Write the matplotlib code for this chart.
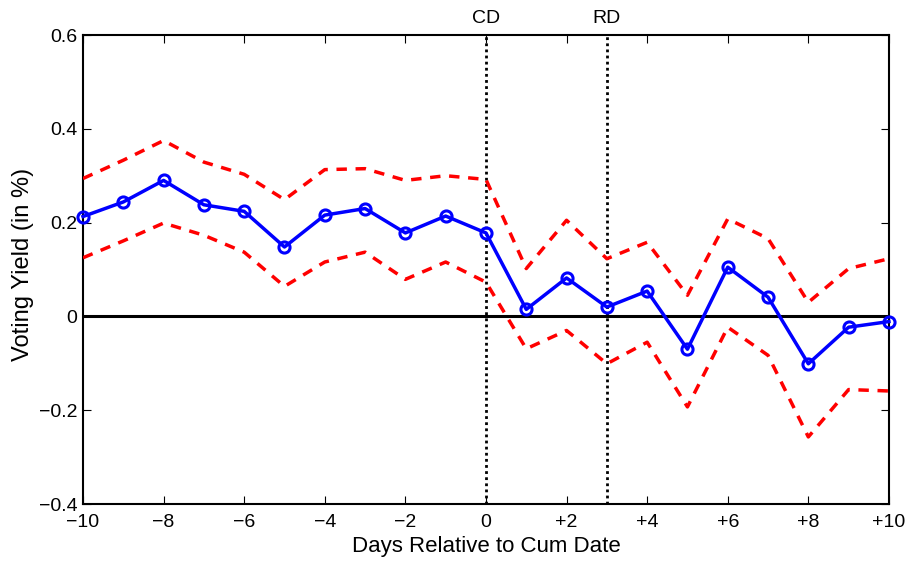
import matplotlib
matplotlib.use("Agg")
import matplotlib.pyplot as plt
import numpy as np

plt.rcParams['font.family'] = ['Liberation Sans', 'DejaVu Sans']

days = list(range(-10, 11))
mean_yield = [0.213, 0.244, 0.290, 0.238, 0.224, 0.148, 0.216, 0.230, 0.178, 0.214, 0.178,
              0.015, 0.082, 0.020, 0.054, -0.070, 0.105, 0.041, -0.101, -0.023, -0.011]
upper_ci = [0.294, 0.333, 0.375, 0.329, 0.303, 0.249, 0.313, 0.315, 0.290, 0.300, 0.292,
            0.102, 0.205, 0.123, 0.158, 0.045, 0.208, 0.166, 0.030, 0.102, 0.123]
lower_ci = [0.125, 0.161, 0.199, 0.173, 0.137, 0.064, 0.116, 0.137, 0.079, 0.116, 0.073,
            -0.069, -0.030, -0.101, -0.055, -0.193, -0.023, -0.083, -0.257, -0.156, -0.159]
xtick_vals = [-10, -8, -6, -4, -2, 0, 2, 4, 6, 8, 10]
xtick_labels = ['\u221210', '\u22128', '\u22126', '\u22124', '\u22122', '0', '+2', '+4', '+6', '+8', '+10']
ytick_vals = [-0.4, -0.2, 0, 0.2, 0.4, 0.6]
ytick_labels = ['\u22120.4', '\u22120.2', '0', '0.2', '0.4', '0.6']
event_days = [0, 3]
event_labels = ['CD', 'RD']

fig = plt.figure(figsize=(9.08, 5.62), dpi=100)
ax = fig.add_axes([0.0914, 0.1032, 0.8876, 0.8345])

ax.axhline(0, color='black', lw=2.2, zorder=2)
for d, lab in zip(event_days, event_labels):
    ax.axvline(d, color='black', lw=2, linestyle=(0, (1, 1.2)), zorder=2)
    ax.text(d, 0.626, lab, ha='center', va='baseline', fontsize=14)

ax.plot(days, upper_ci, color='red', lw=2.5, linestyle=(0, (3, 2.5)), zorder=3)
ax.plot(days, lower_ci, color='red', lw=2.5, linestyle=(0, (3, 2.5)), zorder=3)
ax.plot(days, mean_yield, color='blue', lw=2.5, marker='o', markersize=8,
        markerfacecolor='none', markeredgewidth=2.2, markeredgecolor='blue', zorder=4,
        clip_on=False)

ax.set_xlim(-10, 10)
ax.set_ylim(-0.4, 0.6)
ax.set_xticks(xtick_vals)
ax.set_xticklabels(xtick_labels)
ax.set_yticks(ytick_vals)
ax.set_yticklabels(ytick_labels)
ax.tick_params(direction='in', top=True, right=True, labelsize=14, length=6, width=0.8)
ax.tick_params(axis='x', pad=7)
ax.tick_params(axis='y', pad=4)
for s in ax.spines.values():
    s.set_linewidth(1.5)
ax.set_xlabel('Days Relative to Cum Date', fontsize=16, labelpad=4)
ax.set_ylabel('Voting Yield (in %)', fontsize=17, labelpad=3)
ax.yaxis.set_label_coords(-0.061, 0.51)

fig.savefig('out.png', dpi=100)
